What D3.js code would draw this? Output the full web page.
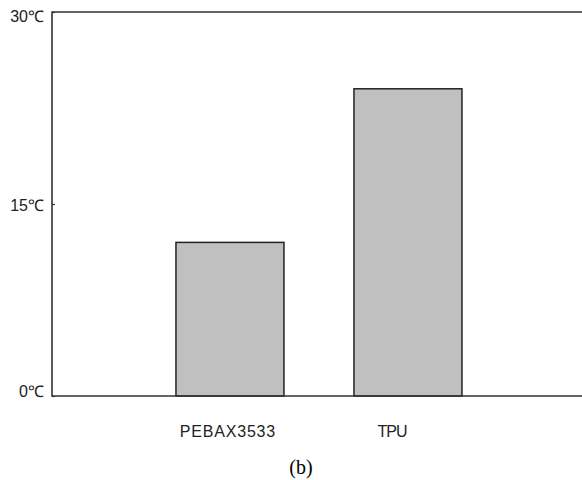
<!DOCTYPE html>
<html>
<head>
<meta charset="utf-8">
<script src="https://cdn.jsdelivr.net/npm/d3@7"></script>
<style>
  html, body { margin: 0; padding: 0; background: #fff; }
  svg { display: block; }
</style>
</head>
<body>
<svg id="chart" width="582" height="480"></svg>
<script>
const categories = ["PEBAX3533", "TPU"];
const values = [12, 24];
const yTicks = [0, 15, 30];
const yTickLabels = ["0℃", "15℃", "30℃"];
const caption = "(b)";

(function () {
const svg = d3.select("#chart");
const mLeft = 52, mRight = 582, mTop = 12, mBottom = 396;

const y = d3.scaleLinear().domain([0, 30]).range([mBottom, mTop]);
const x = d3.scaleBand().domain(categories).range([mLeft, mRight])
  .paddingInner(0.3933).paddingOuter(0.6854).align(0.508);

// bars
svg.append("g").selectAll("rect").data(values).join("rect")
  .attr("x", (d, i) => x(categories[i]))
  .attr("y", d => y(d))
  .attr("width", x.bandwidth())
  .attr("height", d => y(0) - y(d))
  .attr("fill", "#c0c0c0")
  .attr("stroke", "#222")
  .attr("stroke-width", 1.5);

// y axis ticks (inward)
const yAxis = d3.axisRight(y).tickValues(yTicks).tickSize(3).tickFormat("");
const gy = svg.append("g").attr("transform", `translate(${mLeft},0)`).call(yAxis);
gy.select(".domain").remove();
gy.selectAll(".tick line").attr("stroke", "#333").attr("stroke-width", 1.2);

// frame lines: top, left, bottom
svg.append("path")
  .attr("d", `M${mRight},${mTop}H${mLeft}V${mBottom}H${mRight}`)
  .attr("fill", "none").attr("stroke", "#333").attr("stroke-width", 1.6);

// y tick labels
const labelShift = {0: -5, 15: 1, 30: 4};
svg.append("g").selectAll("text").data(yTicks).join("text")
  .attr("x", mLeft - 8)
  .attr("y", d => y(d) + labelShift[d])
  .attr("dy", "0.35em")
  .attr("text-anchor", "end")
  .attr("font-family", "'Liberation Sans', Arial, sans-serif")
  .attr("font-size", 16)
  .attr("fill", "#222")
  .text((d, i) => yTickLabels[i]);

// category labels
const catShift = {"PEBAX3533": -2, "TPU": -16};
const catSpacing = {"PEBAX3533": 0.8, "TPU": -1};
svg.append("g").selectAll("text").data(categories).join("text")
  .attr("x", d => x(d) + x.bandwidth() / 2 + catShift[d])
  .attr("y", 437)
  .attr("text-anchor", "middle")
  .attr("font-family", "'Liberation Sans', Arial, sans-serif")
  .attr("font-size", 16)
  .attr("letter-spacing", d => catSpacing[d])
  .attr("fill", "#222")
  .text(d => d);

// caption
svg.append("text")
  .attr("x", 301)
  .attr("y", 474)
  .attr("text-anchor", "middle")
  .attr("font-family", "'Liberation Serif', 'Times New Roman', serif")
  .attr("font-size", 20)
  .attr("fill", "#000")
  .text(caption);
})();
</script>
</body>
</html>
